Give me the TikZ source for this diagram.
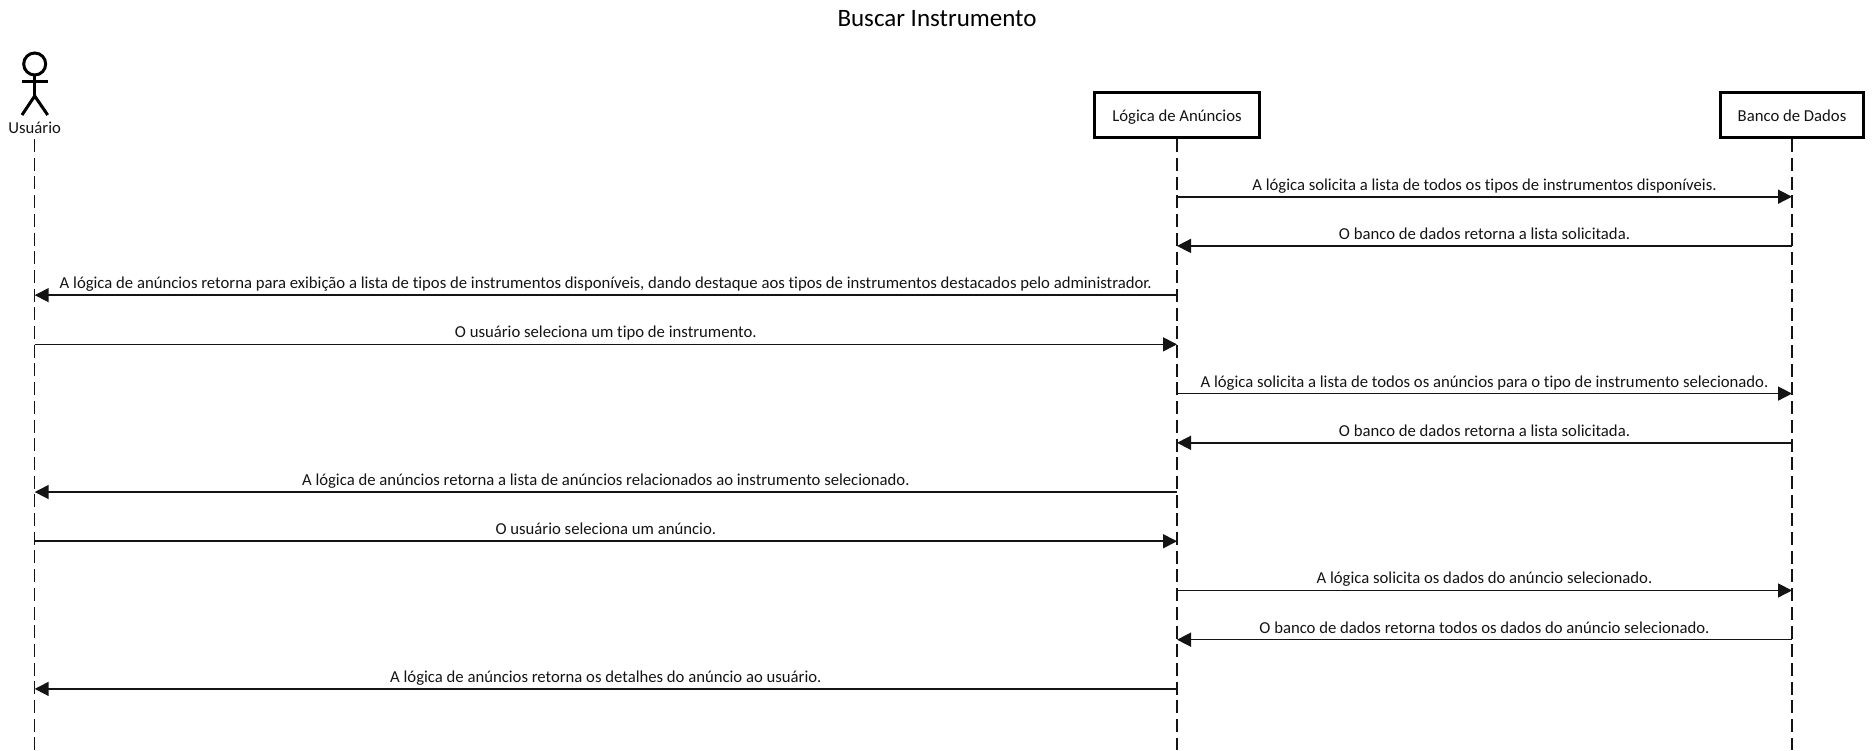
\documentclass[tikz,border=0pt]{standalone}
\usepackage{fontspec}
\setmainfont[Ligatures=CommonOff]{Carlito}
\usetikzlibrary{arrows.meta}
\definecolor{Ink}{RGB}{20,20,20}
\newcommand{\bodyfont}{\fontsize{16.7}{16.7}\selectfont}
\tikzset{
    party/.style={draw=black, line width=3pt, fill=white, minimum height=45.6pt, inner sep=0pt, text height=16pt, text depth=3pt, font=\bodyfont, text=Ink},
    lifeline/.style={Ink, line width=1.3pt, dash pattern=on 13pt off 5.7pt},
    figure/.style={black, line width=3pt},
    msg/.style={Ink, line width=1.6pt, -{Triangle[length=14pt,width=14pt]}},
    msgtext/.style={font=\bodyfont, text=Ink, inner sep=0pt, anchor=base, yshift=6.5pt}
}
\begin{document}
\begin{tikzpicture}[x=1pt, y=-1pt]
    \useasboundingbox (0,0) rectangle (1873,750);

    % Title
    \node[font=\fontsize{25}{25}\selectfont, text=black] (title) at (937,19) {Buscar Instrumento};

    % Actor
    \draw[figure] (34.7,64) circle (11);
    \draw[figure] (34.7,75) -- (34.7,96);
    \draw[figure] (22,81.7) -- (47.7,81.7);
    \draw[figure] (22,115) -- (34.7,96) -- (47.7,115);
    \node[font=\bodyfont, text=Ink, inner sep=0pt] (user) at (34.7,128) {Usuário};

    % Parties
    \node[party, minimum width=165pt] (logic) at (1177,115) {Lógica de Anúncios};
    \node[party, minimum width=142.5pt] (db) at (1792,115) {Banco de Dados};

    % Lifelines
    \coordinate (userend) at (34.7,750);
    \coordinate (logicend) at (1177,750);
    \coordinate (dbend) at (1792,750);
    \coordinate (userstart) at (34.7,139);
    \draw[lifeline] (userstart) -- (userend);
    \draw[lifeline] (logic.south) -- (logicend);
    \draw[lifeline] (db.south) -- (dbend);

    % Message rows
    \foreach \row in {1,...,11} {
        \coordinate (u\row) at (34.7,{196.7+49.22*(\row-1)});
        \coordinate (l\row) at (1177,{196.7+49.22*(\row-1)});
        \coordinate (d\row) at (1792,{196.7+49.22*(\row-1)});
    }

    % Messages
    \draw[msg] (l1) -- node[msgtext] {A lógica solicita a lista de todos os tipos de instrumentos disponíveis.} (d1);
    \draw[msg] (d2) -- node[msgtext] {O banco de dados retorna a lista solicitada.} (l2);
    \draw[msg] (l3) -- node[msgtext] {A lógica de anúncios retorna para exibição a lista de tipos de instrumentos disponíveis, dando destaque aos tipos de instrumentos destacados pelo administrador.} (u3);
    \draw[msg] (u4) -- node[msgtext] {O usuário seleciona um tipo de instrumento.} (l4);
    \draw[msg] (l5) -- node[msgtext] {A lógica solicita a lista de todos os anúncios para o tipo de instrumento selecionado.} (d5);
    \draw[msg] (d6) -- node[msgtext] {O banco de dados retorna a lista solicitada.} (l6);
    \draw[msg] (l7) -- node[msgtext] {A lógica de anúncios retorna a lista de anúncios relacionados ao instrumento selecionado.} (u7);
    \draw[msg] (u8) -- node[msgtext] {O usuário seleciona um anúncio.} (l8);
    \draw[msg] (l9) -- node[msgtext] {A lógica solicita os dados do anúncio selecionado.} (d9);
    \draw[msg] (d10) -- node[msgtext] {O banco de dados retorna todos os dados do anúncio selecionado.} (l10);
    \draw[msg] (l11) -- node[msgtext] {A lógica de anúncios retorna os detalhes do anúncio ao usuário.} (u11);
\end{tikzpicture}
\end{document}
